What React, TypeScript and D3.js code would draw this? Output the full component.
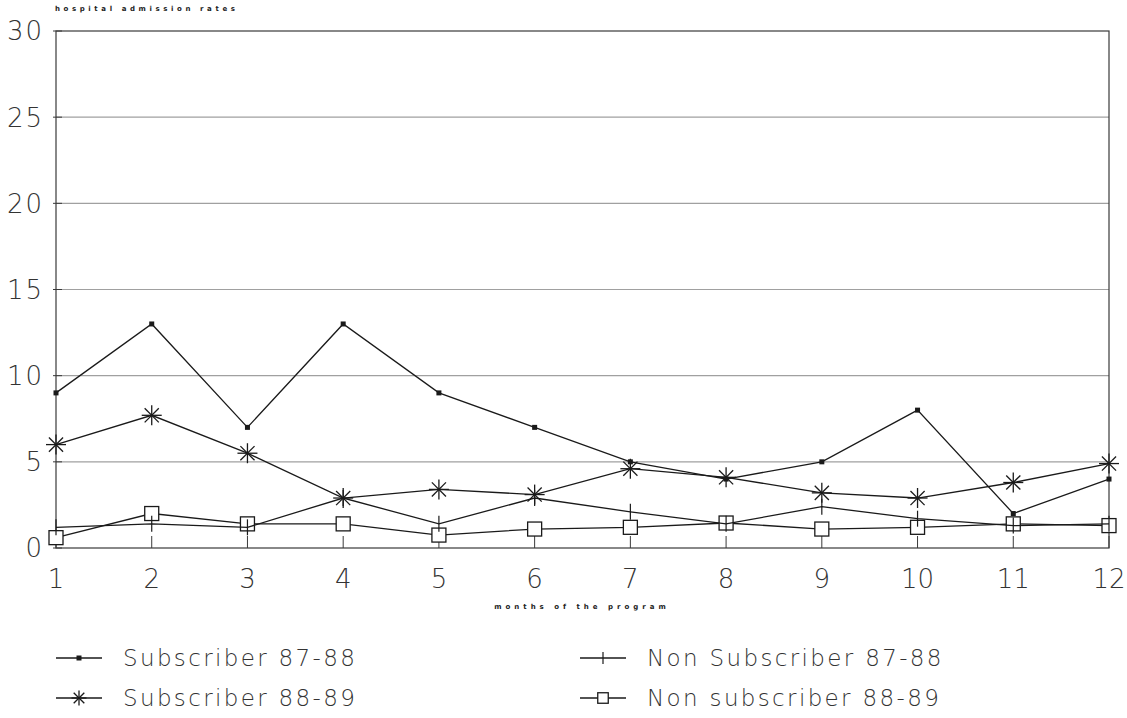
import React from "react";
import * as d3 from "d3";

const months = [1, 2, 3, 4, 5, 6, 7, 8, 9, 10, 11, 12];
const sub8788 = [9, 13, 7, 13, 9, 7, 5, 4, 5, 8, 2, 4];
const sub8889 = [6.0, 7.7, 5.5, 2.9, 3.4, 3.1, 4.6, 4.1, 3.2, 2.9, 3.8, 4.9];
const non8788 = [1.2, 1.4, 1.2, 2.9, 1.4, 2.9, 2.1, 1.4, 2.4, 1.7, 1.3, 1.4];
const non8889 = [0.6, 2.0, 1.4, 1.4, 0.75, 1.1, 1.2, 1.45, 1.1, 1.2, 1.4, 1.3];
const yTicks = [0, 5, 10, 15, 20, 25, 30];
const legendLabels = ["Subscriber 87-88", "Non Subscriber 87-88", "Subscriber 88-89", "Non subscriber 88-89"];

const W = 1127, H = 718;
const x = d3.scaleLinear().domain([1, 12]).range([56, 1109]);
const y = d3.scaleLinear().domain([0, 30]).range([548, 31]);
const ink = "#1a1a1a";
const font = "'DejaVu Sans', sans-serif";

type MarkerKind = "dot" | "star" | "plus" | "square";

function Marker({ kind, cx, cy, s = 1 }: { kind: MarkerKind; cx: number; cy: number; s?: number }) {
  if (kind === "dot") return <rect x={cx - 2.5} y={cy - 2.5} width={5} height={5} fill={ink} />;
  if (kind === "square")
    return <rect x={cx - 7 * s} y={cy - 7 * s} width={14 * s} height={14 * s} fill="white" stroke={ink} strokeWidth={1.3} />;
  if (kind === "plus") return <line x1={cx} x2={cx} y1={cy - 8 * s} y2={cy + 8 * s} stroke={ink} strokeWidth={1.2} />;
  const r = 10 * s;
  const angles = [0, 45, 90, 135];
  return (
    <g stroke={ink} strokeWidth={1.3}>
      {angles.map((a) => {
        const rad = (a * Math.PI) / 180;
        const dx = Math.cos(rad) * r, dy = Math.sin(rad) * r;
        return <line key={a} x1={cx - dx} y1={cy - dy} x2={cx + dx} y2={cy + dy} />;
      })}
    </g>
  );
}

const series: { vals: number[]; kind: MarkerKind }[] = [
  { vals: non8889, kind: "square" },
  { vals: non8788, kind: "plus" },
  { vals: sub8889, kind: "star" },
  { vals: sub8788, kind: "dot" },
];

export default function App() {
  const line = d3
    .line<number>()
    .x((_, i) => x(months[i]))
    .y((d) => y(d));

  const legendItems: { label: string; kind: MarkerKind; lx: number; ly: number }[] = [
    { label: legendLabels[0], kind: "dot", lx: 56, ly: 658 },
    { label: legendLabels[1], kind: "plus", lx: 580, ly: 658 },
    { label: legendLabels[2], kind: "star", lx: 56, ly: 698 },
    { label: legendLabels[3], kind: "square", lx: 580, ly: 698 },
  ];

  return (
    <svg width={W} height={H} style={{ position: "absolute", left: 0, top: 0, background: "white" }}>
      <rect width={W} height={H} fill="white" />
      {yTicks.slice(1, -1).map((t) => (
        <line key={t} x1={x(1)} x2={x(12)} y1={y(t)} y2={y(t)} stroke="#a0a0a0" strokeWidth={1.2} />
      ))}
      <rect x={x(1)} y={y(30)} width={x(12) - x(1)} height={y(0) - y(30)} fill="none" stroke="#3a3a3a" strokeWidth={1.2} />
      {yTicks.map((t) => (
        <g key={t}>
          <line x1={x(1) - 3} x2={x(1) + 6} y1={y(t)} y2={y(t)} stroke="#3a3a3a" strokeWidth={1} />
          <text x={44} y={y(t)} dy="0.36em" textAnchor="end" fontFamily={font} fontWeight={200} fontSize={26} fill="#333" letterSpacing={2}>
            {t}
          </text>
        </g>
      ))}
      {months.map((m) => (
        <g key={m}>
          <line x1={x(m)} x2={x(m)} y1={y(0)} y2={y(0) - 12} stroke="#3a3a3a" strokeWidth={1} />
          <text x={x(m)} y={588} textAnchor="middle" fontFamily={font} fontWeight={200} fontSize={26} fill="#333">
            {m}
          </text>
        </g>
      ))}
      {series.map((s, si) => (
        <g key={si}>
          <path d={line(s.vals) || ""} fill="none" stroke={ink} strokeWidth={1.3} />
          {s.vals.map((v, i) => (
            <Marker key={i} kind={s.kind} cx={x(months[i])} cy={y(v)} />
          ))}
        </g>
      ))}
      <text x={55} y={11} fontFamily={font} fontWeight="bold" fontSize={7} letterSpacing={3.6} fill="#222">
        hospital admission rates
      </text>
      <text x={582} y={609} textAnchor="middle" fontFamily={font} fontWeight="bold" fontSize={7} letterSpacing={4} fill="#222">
        months of the program
      </text>
      {legendItems.map((it) => (
        <g key={it.label}>
          <line x1={it.lx} x2={it.lx + 46} y1={it.ly} y2={it.ly} stroke={ink} strokeWidth={1.3} />
          <Marker kind={it.kind} cx={it.lx + 23} cy={it.ly} s={0.75} />
          <text x={it.lx + 67} y={it.ly} dy="0.36em" fontFamily={font} fontWeight={200} fontSize={23} letterSpacing={2.35} fill="#333">
            {it.label}
          </text>
        </g>
      ))}
    </svg>
  );
}
